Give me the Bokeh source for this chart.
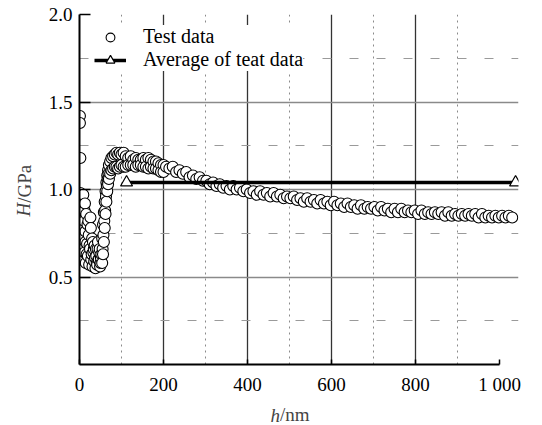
from math import pi
from bokeh.plotting import figure
from bokeh.models import (Range1d, FixedTicker, Grid, Legend, LegendItem, Label,
                          ColumnDataSource)
from bokeh.embed import file_html
from bokeh.resources import INLINE

SERIF = "Liberation Serif"

# ---------------- data ----------------
h_early = [1, 1, 2, 2, 3, 3, 3, 4, 4, 5, 5, 6, 6, 7, 7, 8, 9, 9, 10, 11, 12, 12,
           13, 14, 14, 15, 16, 17, 18, 19, 20, 21, 22, 23, 24, 25, 26, 27, 28, 29,
           30, 31, 32, 33, 34, 35, 36, 37, 38, 39, 40, 41, 42, 43, 44, 45, 46, 47,
           48, 49, 50, 51, 52]
H_early = [1.42, 1.38, 1.18, 0.98, 0.62, 0.80, 0.90, 0.70, 0.84, 0.95, 0.60, 0.66,
           0.78, 0.88, 0.92, 0.60, 0.97, 0.68, 0.73, 0.82, 0.64, 0.88, 0.92, 0.76,
           0.70, 0.58, 0.86, 0.63, 0.69, 0.80, 0.62, 0.82, 0.74, 0.57, 0.68, 0.66,
           0.84, 0.78, 0.60, 0.63, 0.72, 0.56, 0.70, 0.64, 0.66, 0.59, 0.68, 0.61,
           0.55, 0.66, 0.62, 0.58, 0.57, 0.66, 0.70, 0.60, 0.60, 0.64, 0.66, 0.56,
           0.58, 0.61, 0.63]

h_rise = [54, 54, 55, 56, 56, 57, 58, 58, 59, 60, 60, 61, 62, 62, 63, 64, 64, 65,
          66, 66, 67, 68, 68, 69, 70, 70, 73, 73, 76, 76, 80, 80, 84, 84, 88, 88,
          92, 92, 96, 96, 100, 100, 105, 105, 110, 110, 116, 116, 122, 122, 128,
          128, 134, 134, 140, 140, 146, 146, 152, 152, 158, 158, 164, 164, 170,
          170, 176, 176, 182, 182, 188, 188, 194, 194, 200, 200]
H_rise = [0.72, 0.58, 0.66, 0.80, 0.63, 0.74, 0.87, 0.70, 0.82, 0.93, 0.78, 0.88,
          0.99, 0.86, 0.96, 1.04, 0.93, 1.02, 1.08, 0.99, 1.06, 1.11, 1.03, 1.09,
          1.14, 1.06, 1.16, 1.09, 1.18, 1.11, 1.19, 1.12, 1.20, 1.13, 1.21, 1.13,
          1.20, 1.12, 1.21, 1.13, 1.20, 1.14, 1.21, 1.13, 1.19, 1.13, 1.18, 1.14,
          1.19, 1.14, 1.17, 1.14, 1.18, 1.13, 1.17, 1.14, 1.17, 1.14, 1.18, 1.13,
          1.17, 1.13, 1.18, 1.12, 1.17, 1.13, 1.16, 1.12, 1.16, 1.12, 1.15, 1.11,
          1.14, 1.10, 1.14, 1.10]

h_tail = [206, 214, 222, 230, 238, 246, 254, 262, 270, 278,
          286, 294, 302, 310, 318, 326, 334, 342, 350, 358,
          366, 374, 382, 390, 398, 406, 414, 422, 430, 438,
          446, 454, 462, 470, 478, 486, 494, 502, 510, 518,
          526, 534, 542, 550, 558, 566, 574, 582, 590, 598,
          606, 614, 622, 630, 638, 646, 654, 662, 670, 678,
          686, 694, 702, 710, 718, 726, 734, 742, 750, 758,
          766, 774, 782, 790, 798, 806, 814, 822, 830, 838,
          846, 854, 862, 870, 878, 886, 894, 902, 910, 918,
          926, 934, 942, 950, 958, 966, 974, 982, 990, 998,
          1006, 1014, 1022, 1030]
H_tail = [1.13, 1.12, 1.13, 1.10, 1.11, 1.09, 1.10, 1.07, 1.08, 1.06,
          1.07, 1.05, 1.05, 1.03, 1.04, 1.02, 1.03, 1.01, 1.02, 1.00,
          1.02, 1.00, 1.01, 0.99, 1.00, 0.98, 0.99, 0.97, 0.99, 0.97,
          0.98, 0.96, 0.98, 0.96, 0.97, 0.95, 0.96, 0.95, 0.96, 0.94,
          0.95, 0.93, 0.95, 0.93, 0.94, 0.92, 0.94, 0.92, 0.93, 0.91,
          0.93, 0.91, 0.92, 0.90, 0.92, 0.90, 0.91, 0.89, 0.91, 0.89,
          0.90, 0.89, 0.90, 0.88, 0.90, 0.88, 0.89, 0.87, 0.89, 0.87,
          0.89, 0.87, 0.88, 0.87, 0.88, 0.86, 0.88, 0.86, 0.87, 0.86,
          0.87, 0.86, 0.87, 0.85, 0.87, 0.85, 0.86, 0.85, 0.86, 0.85,
          0.86, 0.85, 0.86, 0.84, 0.86, 0.84, 0.85, 0.84, 0.85, 0.84,
          0.85, 0.84, 0.85, 0.84]

avg_h = [112, 1038]
avg_H = [1.04, 1.04]

x_ticks = [0, 200, 400, 600, 800, 1000]
x_tick_labels = ["0", "200", "400", "600", "800", "1 000"]
y_ticks = [0.5, 1.0, 1.5, 2.0]
y_tick_labels = ["0.5", "1.0", "1.5", "2.0"]
x_major_grid = [200, 400, 600, 800]
x_minor_grid = [100, 300, 500, 700, 900]
y_major_grid = [0.5, 1.0, 1.5]
y_minor_grid = [0.25, 0.75, 1.25, 1.75]

# ---------------- figure ----------------
p = figure(width=542, height=425, output_backend="svg", toolbar_location=None,
           x_range=Range1d(0, 1045), y_range=Range1d(0, 2.0),
           min_border_left=79, min_border_right=24, min_border_top=14,
           min_border_bottom=61)
p.outline_line_color = None
p.background_fill_color = "white"
p.border_fill_color = "white"

for ax in (p.xaxis[0], p.yaxis[0]):
    ax.axis_line_color = "black"
    ax.axis_line_width = 2
    ax.major_tick_line_color = "black"
    ax.major_tick_line_width = 1.5
    ax.major_tick_out = 0
    ax.minor_tick_line_color = None
    ax.major_label_text_font = SERIF
    ax.major_label_text_font_size = "19px"
    ax.major_label_text_color = "black"

p.xaxis.ticker = FixedTicker(ticks=x_ticks)
p.xaxis.major_label_overrides = {t: l for t, l in zip(x_ticks, x_tick_labels)}
p.xaxis.bounds = (0, 1000)
p.xaxis.major_tick_in = 5
p.xaxis.major_label_standoff = 9

p.yaxis.ticker = FixedTicker(ticks=y_ticks)
p.yaxis.major_label_overrides = {t: l for t, l in zip(y_ticks, y_tick_labels)}
p.yaxis.bounds = (0, 2.0)
p.yaxis.major_tick_in = 11
p.yaxis.major_label_standoff = 7

p.xgrid.ticker = FixedTicker(ticks=x_major_grid)
p.xgrid.grid_line_color = "#333333"
p.xgrid.grid_line_width = 1.3
p.ygrid.ticker = FixedTicker(ticks=y_major_grid)
p.ygrid.grid_line_color = "#8a8a8a"
p.ygrid.grid_line_width = 1.5

p.add_layout(Grid(dimension=0, ticker=FixedTicker(ticks=x_minor_grid),
                  grid_line_color="#8a8a8a", grid_line_width=1,
                  grid_line_dash="2 4"))
p.add_layout(Grid(dimension=1, ticker=FixedTicker(ticks=y_minor_grid),
                  grid_line_color="#9a9a9a", grid_line_width=1,
                  grid_line_dash="9 18"))

# ---------------- glyphs ----------------
src = ColumnDataSource(dict(h=h_early + h_rise + h_tail, H=H_early + H_rise + H_tail))
r_test = p.scatter("h", "H", source=src, marker="circle", size=11,
                   fill_color="white", line_color="black", line_width=1.1)

avg_src = ColumnDataSource(dict(h=avg_h, H=avg_H))
r_avg_line = p.line("h", "H", source=avg_src, line_color="black", line_width=3.5)
r_avg_tri = p.scatter("h", "H", source=avg_src, marker="triangle", size=12,
                      fill_color="white", line_color="black", line_width=1.2)

legend = Legend(items=[LegendItem(label="Test data", renderers=[r_test]),
                       LegendItem(label="Average of teat data",
                                  renderers=[r_avg_line, r_avg_tri])],
                location=(15, 293), orientation="vertical",
                label_text_font=SERIF, label_text_font_size="20px",
                label_text_color="black",
                glyph_width=32, glyph_height=22, label_height=22,
                label_standoff=17, spacing=0, padding=8, margin=0,
                border_line_color=None, background_fill_color="white",
                background_fill_alpha=1.0)
p.add_layout(legend)

# ---------------- axis titles (italic symbol + upright unit) ----------------
# x title: "/nm" sits in the bottom panel, the italic "h" in the narrow right
# panel, positioned so that the two join at the bottom centre of the chart.
p.add_layout(Label(x=200.5, y=4, x_units="screen", y_units="screen", text="/nm",
                   text_font=SERIF, text_font_size="19px",
                   text_baseline="alphabetic", text_align="left"), "below")
p.add_layout(Label(x=-248, y=-51, x_units="screen", y_units="screen", text="h",
                   text_font=SERIF, text_font_style="italic",
                   text_font_size="19px", text_baseline="alphabetic",
                   text_align="left"), "right")
# y title
p.add_layout(Label(x=-1, y=148, x_units="screen", y_units="screen", text="H",
                   angle=pi / 2, text_font=SERIF, text_font_style="italic",
                   text_font_size="19px", text_baseline="alphabetic",
                   text_align="left"), "left")
p.add_layout(Label(x=21, y=161.7, x_units="screen", y_units="screen", text="/GPa",
                   angle=pi / 2, text_font=SERIF, text_font_size="19px",
                   text_baseline="alphabetic", text_align="left"), "left")

open("out.html", "w").write(file_html(p, INLINE))
